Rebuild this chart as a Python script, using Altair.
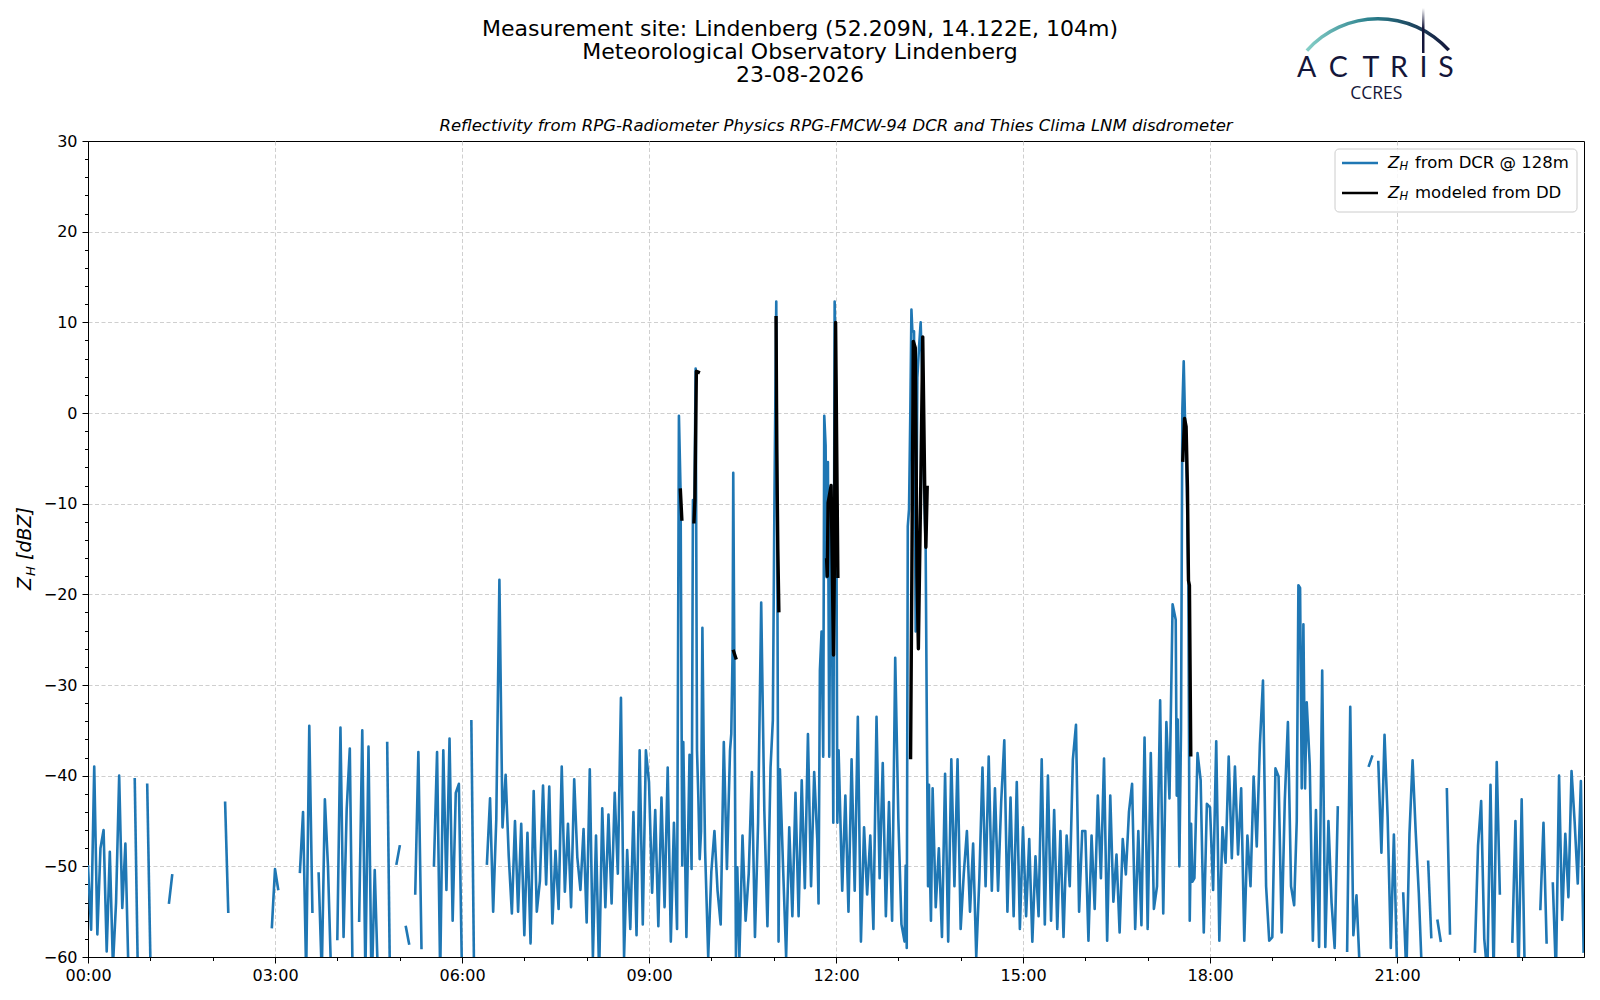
import altair as alt
import pandas as pd

# ---------------- data ----------------
# Blue series: Z_H from DCR @ 128m, 3-minute slots per hour (None = no data)
H00 = [-50, -57, -39, -57.5, -48, -46, -59.4, -48.4, -61, -54, -40, -54.6, -47.5, -62, None, -40.4, -62, None, None, -41]
H01 = [-60, None, None, None, None, None, -54, -51, None, None, None, None, None, None, None, None, None, None, None, None]
H02 = [None, None, None, None, -43, -55, None, None, None, None, None, None, None, None, None, None, None, None, None, -56.7]
H03 = [-50.3, -52.5, None, None, None, None, None, None, -50.6, -44, -62, -34.5, -55, None, -50.8, -62, -42.6, -50, -62, None]
H04 = [-58, -34.7, -57.8, -43.7, -37, -65, None, -56, -35, -62, -36.8, -64, -50.4, -62, None, None, -36.4, -66, None, -49.7]
H05 = [-47.8, None, -56.7, -58.5, None, -53, -37.4, -59, None, None, None, -49.9, -37.4, -62, -37.2, -52.6, -35.9, -56, -41.9, -40.9]
H06 = [-62, None, None, -34, -66, None, None, None, -49.7, -42.5, -55, -44.8, -18.4, -45.7, -39.9, -48.9, -55.2, -45, -55, -45.3]
H07 = [-57.6, -46.3, -58.5, -41.7, -55, -51.6, -41.1, -52, -41.2, -56.3, -48.3, -54.7, -39, -52.8, -45.3, -54.5, -40.4, -49, -52.6, -45.9]
H08 = [-56.2, -39.3, -60, -46.6, -62, -43.6, -54.5, -44.3, -54.1, -41.9, -50.8, -31.4, -60, -48.2, -56.9, -44, -57.6, -37.2, -56.4, -37.2]
H09 = [-40.7, -52.9, -43.8, -56.6, -42.4, -54.5, -39.1, -58.3, -45.2, -56.9, -5, -36.3, -57.8, -37.7, -10, 0, -45, -30, -48.2, -60]
H10 = [-50.6, -46.1, -52.7, -56.4, -36.3, -50.3, -37.2, -20, -60, -60, -46.6, -56, -50.8, -39.6, -57.8, -45.2, -20.9, -43.8, -56.6, -39.1]
H11 = [-20, -10, -40, -49.9, -60, -45.7, -55.5, -41.9, -55.5, -40.5, -52.4, -35.4, -52.2, -39.6, -47.1, -30, -10, -10, -20, -20]
H12 = [3, -60, -52.7, -42.2, -55, -38.2, -52.7, -33.5, -58.3, -45.7, -53.1, -46.6, -56.9, -33.5, -51.3, -38.6, -55.5, -42.9, -56, -27]
H13 = [-44.7, -56.4, -58.3, -12, -10, 0, -24, 7, 10, -7.8, -41, -41.4, -54.5, -48, -57.8, -39.8, -58.3, -38.2, -52.2, -38.2]
H14 = [-56.9, -50.8, -46.1, -55, -47.5, -60, -51.3, -39.1, -52.2, -37.9, -52.7, -41.4, -52.7, -42.9, -36.1, -55, -42.4, -55.5, -40.7, -56.9]
H15 = [-45.7, -55.5, -47, -58.3, -48.9, -55.5, -38.2, -56.4, -40, -56, -43.8, -56.9, -46.1, -57.8, -46.6, -52.2, -38.2, -34.4, -55, -46.1]
H16 = [-46.1, -58.2, -46.6, -54.7, -42.2, -51.3, -38.1, -58.2, -42.2, -53.9, -48.7, -57.3, -47, -50.9, -44, -40.9, -56.9, -46.1, -56.5, -35.8]
H17 = [-56.9, -37.5, -54.7, -52.2, -31.7, -55.2, -34.1, -42.5, -21.1, -22.8, -40, -20, 0, -10, -50, -51.3, -37.5, -40.5, -57.3, -43.1]
H18 = [-43.5, -52.6, -36.2, -58.2, -45.7, -49.6, -37.9, -49.1, -39, -48.7, -41.4, -58.2, -46.6, -52.2, -40.1, -47.8, -36.6, -29.5, -52.2, -58.2]
H19 = [-57.8, -39.2, -40.1, -57.3, -42.7, -34.1, -52.2, -54.3, -45, -19.3, -23.3, -31.9, -38.8, -58.2, -43.8, -58.9, -28.4, -58.9, -45, -54]
H20 = [-59, -43.5, None, None, -59.3, -32.4, -57.6, -53.2, -61, None, None, -38.9, -37.9, None, -38.5, -48.5, -35.5, -44.6, -59, -46.5]
H21 = [-61, None, -53, -62, -46.4, -38.3, -46.2, -53, -62, None, -49.5, -57.8, None, -56, -58.2, None, -41.5, -57.4, None, None]
H22 = [None, None, None, None, None, -59.4, -47.7, -42.8, -58, -62, -41, -62, -38.5, -53, None, None, None, -58.3, -45, -62]
H23 = [-42.6, -62, None, None, None, None, -54.7, -45.2, -58.4, None, -51.9, -62, -40, -55.9, -46.4, -53.4, -39.5, -45.1, -51.9, -40.6]
BLUE_HOURS = [H00, H01, H02, H03, H04, H05, H06, H07, H08, H09, H10, H11,
              H12, H13, H14, H15, H16, H17, H18, H19, H20, H21, H22, H23]

# finer readings around the precipitation peaks (minutes of day, dBZ)
PEAK_T = [568.8, 570.4, 572,
          581, 582.3, 583.6, 584.9, 586.2, 587.5, 588.8, 590.1, 591.4, 592.7,
          619.2, 620.5, 621.1, 622.1, 623.7, 625,
          659.2, 660.8, 662.5, 663.4, 664.7, 666,
          703.2, 704.5, 706.1, 707.7, 708.7, 710, 710.9, 712.2, 713.5, 714.8, 715.8, 717.4, 718.7, 720, 721.3, 722.5,
          787.1, 788.1, 789.1, 790.3, 791.6, 792.6, 793.5, 795.1, 796.7, 798.3, 799.9, 801.5, 803.1, 804.7, 806.3, 807.3, 808.6, 809.5, 810.5, 811.4,
          1048, 1048.9, 1050.5, 1052.1, 1053.4, 1054.7, 1056, 1057.6, 1059.2, 1060.5, 1061.8, 1063.1,
          1163.5, 1165.1, 1166.7, 1168.3, 1169.9, 1171.5, 1173.1,
          1439.6]
PEAK_V = [-0.3, -8.7, -49.9,
          -50.3, -9.6, -11.7, 4.9, -37.2, -42.4, -49.2, -46.1, -23.7, -37.7,
          -35.4, -26, -6.6, -26.5, -60, -50.1,
          -33.9, -8.7, 12.3, -11.5, -58.3, -39.3,
          -54.1, -28.4, -24.1, -37.9, -0.3, -3.6, -18.1, -5.4, -37.9, -10.1, -15.3, -45.2, 12.3, 3, -45.2, -37.2,
          -49.9, -59, -12.5, -10.6, 0.6, 11.4, 9, 9, -24.1, 3.9, 7.2, 10, 3.5, -7.8, -14.8, -32, -52.2, -41, -50.8, -56,
          -42.2, -33.8, -50, -35, 0.4, 5.7, -0.9, -7.3, -19, -56, -45.3, -51.7,
          -45, -19, -19.3, -41.4, -23.3, -41.4, -31.9,
          -59.4]

# Black series: Z_H modeled from disdrometer (minutes of day, dBZ; None = gap)
DD_T = [570.2, 571.6, 572.5,
        583.3, 584.2, 585.6, 587.5, 588.5,
        621.5, 623.5, 624.5,
        662.3, 663, 664, 665, 666,
        711, 711.6, 712.4, 715.3, 717.6, 718.5, 719.6, 721.8, 722.8,
        791.8, 793, 794.4, 796.3, 798, 799.3, 801.5, 803.5, 805.4, 806.5, 807.8, 808.8,
        1053.8, 1055.5, 1057, 1058.3, 1059.3, 1060.2, 1061.5]
DD_V = [-8.5, -11.7, None,
        -12, -9.6, 4.6, 4.5, None,
        -26.3, -27, None,
        10.5, -4, -15, -21.8, None,
        -16.2, -18, -9.9, -8, -26.7, -16, 10, -18, None,
        -38, -18, 7.9, 7.2, -18, -26, -8.7, 8.4, -8.2, -14.8, -8.2, None,
        -5.2, -0.6, -1.5, -8.2, -18.5, -19, -37.7]

TITLE_LINES = ["Measurement site: Lindenberg (52.209N, 14.122E, 104m)",
               "Meteorological Observatory Lindenberg",
               "23-08-2026"]
SUBTITLE = "Reflectivity from RPG-Radiometer Physics RPG-FMCW-94 DCR and Thies Clima LNM disdrometer"
LEGEND_LABELS = ["from DCR @ 128m", "modeled from DD"]
BLUE = "#1f77b4"
NAVY = "#14163a"


def segments(points):
    rows, seg, open_ = [], 0, False
    for t, v in points:
        if v is None:
            if open_:
                seg += 1
            open_ = False
            continue
        rows.append({"h": t / 60.0, "z": v, "seg": seg})
        open_ = True
    return pd.DataFrame(rows)


base = []
for hh, vals in enumerate(BLUE_HOURS):
    for k, v in enumerate(vals):
        base.append((hh * 60 + 3 * k, v))
extras = list(zip(PEAK_T, PEAK_V))
merged = [p for p in base if all(abs(p[0] - e[0]) >= 1.0 for e in extras)] + extras
merged.sort(key=lambda p: p[0])
df_blue = segments(merged)
df_dd = segments(list(zip(DD_T, DD_V)))
ONE = pd.DataFrame({"a": [0]})

W, H = 1496, 816
FONT = "DejaVu Sans"

xaxis = alt.Axis(
    values=list(range(24)),
    labelExpr="datum.value % 3 == 0 ? (datum.value < 10 ? '0' : '') + datum.value + ':00' : ''",
    tickSize={"condition": {"test": "datum.value % 3 == 0", "value": 6}, "value": 3.5},
    grid=True,
    gridOpacity={"condition": {"test": "datum.value % 3 == 0 && datum.value > 0", "value": 1}, "value": 0},
    gridDash=[4, 2.5], gridColor="#cfcfcf", gridWidth=1,
    labelFont=FONT, labelFontSize=16, labelColor="black", labelPadding=4,
    labelFlush=False, labelOverlap=False,
    tickColor="black", domainColor="black", title=None)
yaxis = alt.Axis(
    values=list(range(-60, 31, 2)),
    labelExpr="datum.value % 10 == 0 ? datum.label : ''",
    tickSize={"condition": {"test": "datum.value % 10 == 0", "value": 6}, "value": 3.5},
    grid=True,
    gridOpacity={"condition": {"test": "datum.value % 10 == 0 && datum.value > -60 && datum.value < 30", "value": 1}, "value": 0},
    gridDash=[4, 2.5], gridColor="#cfcfcf", gridWidth=1,
    labelFont=FONT, labelFontSize=16, labelColor="black", labelPadding=5,
    labelFlush=False, labelOverlap=False,
    tickColor="black", domainColor="black", title=None)

X = alt.X("h:Q", scale=alt.Scale(domain=[0, 24], nice=False, zero=False), axis=xaxis)
Y = alt.Y("z:Q", scale=alt.Scale(domain=[-60, 30], nice=False, zero=False), axis=yaxis)

blue = alt.Chart(df_blue).mark_line(color=BLUE, strokeWidth=2.6, clip=True, strokeJoin="round",
                                    strokeCap="square").encode(x=X, y=Y, detail="seg:N")
black = alt.Chart(df_dd).mark_line(color="black", strokeWidth=3.4, clip=True, strokeJoin="round",
                                   strokeCap="square").encode(x=X, y=Y, detail="seg:N")


def txt(s, x, y, size, **kw):
    props = dict(text=s, fontSize=size, font=kw.pop("font", FONT), color=kw.pop("color", "black"))
    props.update(kw)
    return alt.Chart(ONE).mark_text(**props).encode(x=alt.value(x), y=alt.value(y))


layers = [blue, black]

# titles
for i, line in enumerate(TITLE_LINES):
    layers.append(txt(line, 712, -112 + 23 * i, 22, align="center", baseline="middle"))
layers.append(txt(SUBTITLE, 748, -15, 16.5, align="center", baseline="middle", fontStyle="italic"))

# y axis title  Z_H [dBZ]
layers.append(txt("Z", -57, 449, 19, angle=270, align="left", baseline="alphabetic", fontStyle="italic"))
layers.append(txt("H", -53, 435, 13, angle=270, align="left", baseline="alphabetic", fontStyle="italic"))
layers.append(txt("[dBZ]", -57, 419, 19, angle=270, align="left", baseline="alphabetic", fontStyle="italic"))

# legend
layers.append(alt.Chart(ONE).mark_rect(fill="white", fillOpacity=0.85, stroke="#cccccc", strokeWidth=1,
                                        cornerRadius=4).encode(
    x=alt.value(1247), x2=alt.value(1489), y=alt.value(8), y2=alt.value(71)))
for i, (col, lab) in enumerate(zip([BLUE, "black"], LEGEND_LABELS)):
    yy = 22 + 30 * i
    layers.append(alt.Chart(ONE).mark_rule(color=col, strokeWidth=2.6).encode(
        x=alt.value(1254), x2=alt.value(1290), y=alt.value(yy)))
    layers.append(txt("Z", 1300, yy, 16.5, align="left", baseline="middle", fontStyle="italic"))
    layers.append(txt("H", 1311.5, yy + 4, 11.5, align="left", baseline="middle", fontStyle="italic"))
    layers.append(txt(lab, 1327, yy, 16.5, align="left", baseline="middle"))

# ACTRIS logo
arc_grad = alt.LinearGradient(gradient="linear",
                              stops=[alt.GradientStop(offset=0, color="#86d0c8"),
                                     alt.GradientStop(offset=0.45, color="#2a7f8c"),
                                     alt.GradientStop(offset=1, color=NAVY)],
                              x1=0, x2=1, y1=0, y2=0)
layers.append(alt.Chart(ONE).mark_arc(radius=97, radius2=93.5, theta=5.44, theta2=7.12, fill=arc_grad).encode(
    x=alt.value(1290), y=alt.value(-27)))
bar_grad = alt.LinearGradient(gradient="linear",
                              stops=[alt.GradientStop(offset=0, color="#ffffff"),
                                     alt.GradientStop(offset=0.45, color=NAVY),
                                     alt.GradientStop(offset=1, color=NAVY)],
                              x1=0, x2=0, y1=0, y2=1)
layers.append(alt.Chart(ONE).mark_rect(fill=bar_grad).encode(
    x=alt.value(1334), x2=alt.value(1336.5), y=alt.value(-133), y2=alt.value(-88)))
for letter, lx in zip(["A", "C", "T", "R", "I", "S"], [1218.7, 1250.3, 1282.8, 1311, 1335.5, 1358]):
    layers.append(txt(letter, lx, -64, 28.5, font="Lato", color=NAVY, align="center", baseline="alphabetic"))
layers.append(txt("CCRES", 1288.3, -42, 17.5, font="Open Sans", color=NAVY, align="center", baseline="alphabetic"))

chart = alt.layer(*layers).properties(
    width=W, height=H,
    padding={"left": 80, "top": 133, "right": 8, "bottom": 35},
    autosize=alt.AutoSizeParams(type="none"),
    background="white",
).configure_view(stroke="black", strokeWidth=1)

chart.save("out.html", embed_options={"renderer": "svg", "actions": False})
